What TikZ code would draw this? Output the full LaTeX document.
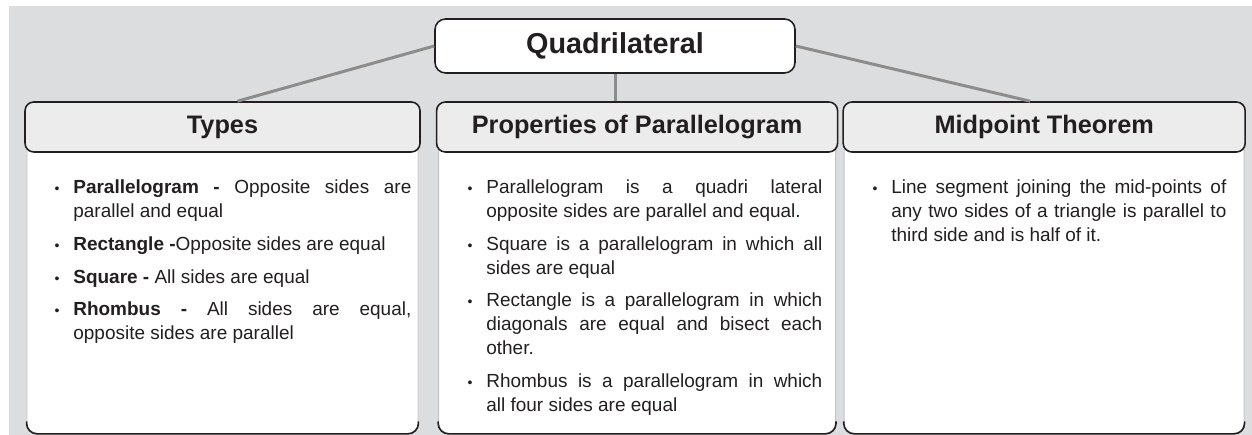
\documentclass[tikz,border=0pt]{standalone}
\usepackage{fontspec}
\setmainfont{Liberation Sans}
\usepackage{enumitem}
\usetikzlibrary{positioning,backgrounds}
\definecolor{backdrop}{HTML}{DCDDDF}
\definecolor{headfill}{HTML}{ECECEC}
\definecolor{linkgrey}{HTML}{8C8C8C}
\definecolor{ink}{HTML}{231F20}
\definecolor{rim}{HTML}{C4C4C4}
\setlist[itemize]{label={\footnotesize\textbullet},align=left,labelwidth=0.2cm,topsep=0pt,partopsep=0pt,parsep=0pt,itemsep=5pt}
\hyphenpenalty=10000
\exhyphenpenalty=10000

\begin{document}
\begin{tikzpicture}[text=ink,title/.style={rounded corners=6pt,draw=ink,fill=white,line width=0.9pt,minimum width=7.2cm,minimum height=1.08cm,font=\bfseries\fontsize{16.4}{19}\selectfont},head/.style={rounded corners=5pt,draw=ink,fill=headfill,line width=0.9pt,minimum width=8cm,minimum height=1cm,font=\bfseries\fontsize{14.4}{17}\selectfont},sheet/.style={rounded corners=6pt,draw=rim,fill=white,line width=0.5pt,minimum width=7.94cm,minimum height=6.12cm,anchor=north},rimline/.style={draw=ink,line width=0.9pt,rounded corners=6pt},link/.style={draw=linkgrey,line width=1.7pt},bullets/.style={anchor=north west,inner sep=0pt,text width=#1,align=justify,font=\fontsize{10.8}{13.6}\selectfont}]
 \useasboundingbox (0,0) rectangle (25.04,-8.7);
 \node[title] (quad) at (12.3,-0.92) {Quadrilateral};
 \node[head,minimum width=7.9cm] (types) at (4.45,-2.54) {Types};
 \node[head,minimum width=8.02cm,right=0.3cm of types] (props) {Properties of Parallelogram};
 \node[head,minimum width=8.04cm,right=0.08cm of props] (mid) {Midpoint Theorem};
 \begin{pgfonlayer}{background}
  \fill[backdrop] (0.18,-0.12) rectangle (25.04,-8.7);
  \node[sheet,minimum width=7.82cm] (typesbox) at (types.center) {};
  \node[sheet] (propsbox) at (props.center) {};
  \node[sheet,minimum width=8cm] (midbox) at (mid.center) {};
 \end{pgfonlayer}
 \foreach \b in {typesbox,propsbox,midbox}
  \draw[rimline] ([yshift=0.25cm]\b.south west)--(\b.south west)--(\b.south east)--([yshift=0.25cm]\b.south east);
 \draw[link] (quad.west)--([xshift=0.3cm]types.north);
 \draw[link] (quad.south)--(quad.south |- props.north);
 \draw[link] (quad.east)--([xshift=-0.28cm]mid.north);
 % lists
 \node[bullets=7.4cm] (typeslist) at (0.82,-3.39) {\begin{itemize}[leftmargin=0.64cm]
  \item \textbf{Parallelogram -} Opposite sides are\linebreak parallel and equal
  \item \textbf{Rectangle -}Opposite sides are equal
  \item \textbf{Square -} All sides are equal
  \item \textbf{Rhombus -} All sides are equal,\linebreak opposite sides are parallel
 \end{itemize}};
 \node[bullets=7.42cm] (propslist) at (9.02,-3.39) {\begin{itemize}[leftmargin=0.7cm]
  \item Parallelogram is a quadri lateral\linebreak opposite sides are parallel and equal.
  \item Square is a parallelogram in which all\linebreak sides are equal
  \item Rectangle is a parallelogram in which\linebreak diagonals are equal and bisect each\linebreak other.
  \item Rhombus is a parallelogram in which\linebreak all four sides are equal
 \end{itemize}};
 \node[bullets=7.16cm] (midlist) at (17.36,-3.39) {\begin{itemize}[leftmargin=0.46cm]
  \item Line segment joining the mid-points of\linebreak any two sides of a triangle is parallel to\linebreak third side and is half of it.
 \end{itemize}};
\end{tikzpicture}
\end{document}
